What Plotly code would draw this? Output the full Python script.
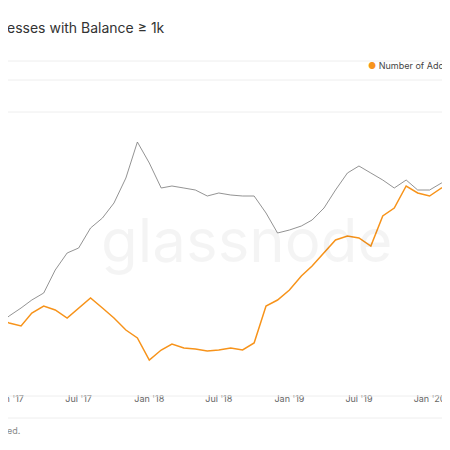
import plotly.graph_objects as go

months = ["2016-12-01","2017-01-01","2017-02-01","2017-03-01","2017-04-01","2017-05-01","2017-06-01",
          "2017-07-01","2017-08-01","2017-09-01","2017-10-01","2017-11-01","2017-12-01","2018-01-01",
          "2018-02-01","2018-03-01","2018-04-01","2018-05-01","2018-06-01","2018-07-01","2018-08-01",
          "2018-09-01","2018-10-01","2018-11-01","2018-12-01","2019-01-01","2019-02-01","2019-03-01",
          "2019-04-01","2019-05-01","2019-06-01","2019-07-01","2019-08-01","2019-09-01","2019-10-01",
          "2019-11-01","2019-12-01","2020-01-01","2020-02-01","2020-03-01"]
# index values (relative level of each series)
addresses = [90,85,82,95,102,98,90,100,110,100,90,78,70,48,58,64,60,59,57,58,60,58,65,102,108,
             118,132,142,155,168,172,170,162,192,200,222,215,212,220,220]
price = [82,92,100,108,115,138,155,160,180,190,205,230,266,245,220,222,220,218,212,215,213,212,
         212,195,175,178,182,188,200,218,235,242,235,228,220,228,218,218,225,220]

def py(page_y):
    return (458 - page_y) / 450

fig = go.Figure()
fig.add_trace(go.Scatter(x=months, y=price, mode="lines", line=dict(color="#777777", width=0.8),
                         showlegend=False))
fig.add_trace(go.Scatter(x=months, y=addresses, mode="lines", line=dict(color="#f7931a", width=1.5),
                         showlegend=False))
fig.update_layout(
    width=450, height=450, margin=dict(l=0, r=0, t=0, b=0),
    paper_bgcolor="white", plot_bgcolor="white",
    font=dict(family="Inter", color="#333"),
    xaxis=dict(range=["2016-12-29", "2020-03-15"], showgrid=False, zeroline=False, automargin=False,
               tickvals=["2017-01-01","2017-07-01","2018-01-01","2018-07-01","2019-01-01","2019-07-01","2020-01-01"],
               ticktext=["Jan '17","Jul '17","Jan '18","Jul '18","Jan '19","Jul '19","Jan '20"],
               tickfont=dict(size=9, color="#666"), ticks="", ticklabeloverflow="allow", domain=[0,1]),
    yaxis=dict(range=[16, 400], visible=False, domain=[66/450, 1], automargin=False),
    annotations=[
        dict(text="esses with Balance ≥ 1k", x=-0.006, y=py(28), xref="paper", yref="paper",
             xanchor="left", yanchor="middle", showarrow=False, font=dict(size=14, color="#333")),
        dict(text="<span style='color:#f7931a'>●</span> Number of Addresses", x=358/450, y=py(65),
             xref="paper", yref="paper", xanchor="left", yanchor="middle", showarrow=False,
             font=dict(size=9, color="#444")),
        dict(text="glassnode", x=0.53, y=py(240), xref="paper", yref="paper", showarrow=False,
             yanchor="middle", font=dict(size=60, color="rgba(0,0,0,0.045)")),
        dict(text="ed.", x=-0.006, y=py(430), xref="paper", yref="paper", xanchor="left",
             yanchor="middle", showarrow=False, font=dict(size=9, color="#888")),
    ],
    shapes=[dict(type="line", xref="paper", yref="paper", x0=0, x1=1, y0=(450-yy)/450, y1=(450-yy)/450,
                 line=dict(color="#eeeeee", width=1)) for yy in (53, 72, 104, 388, 410)],
)
fig.write_html("out.html")
